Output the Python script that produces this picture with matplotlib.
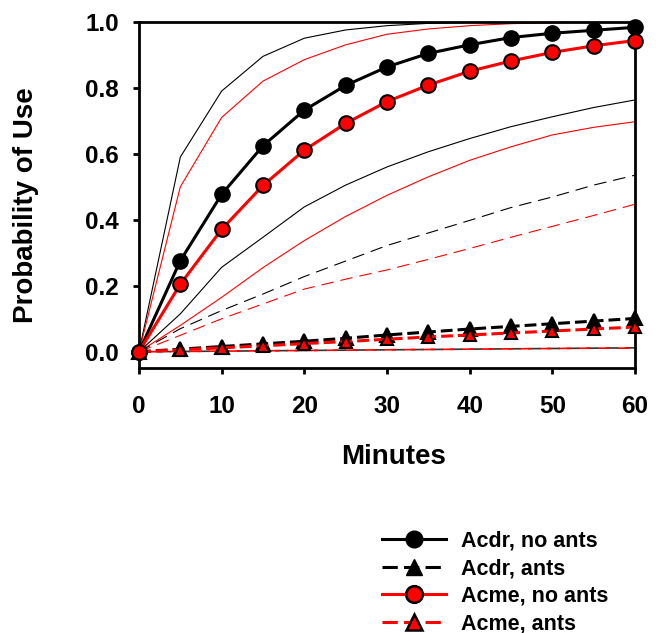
import matplotlib
matplotlib.use("Agg")
import matplotlib.pyplot as plt
from matplotlib.lines import Line2D

plt.rcParams['font.family'] = ['Liberation Sans', 'DejaVu Sans']
plt.rcParams['font.weight'] = 'bold'
plt.rcParams['lines.scale_dashes'] = False

minutes = [0, 5, 10, 15, 20, 25, 30, 35, 40, 45, 50, 55, 60]

acdr_no_ants = [0, 0.276, 0.477, 0.624, 0.732, 0.807, 0.863, 0.904, 0.930, 0.952, 0.965, 0.974, 0.983]
acme_no_ants = [0, 0.205, 0.371, 0.504, 0.611, 0.692, 0.758, 0.808, 0.850, 0.881, 0.907, 0.927, 0.943]
acdr_ants = [0, 0.008, 0.016, 0.024, 0.032, 0.041, 0.051, 0.060, 0.069, 0.077, 0.085, 0.093, 0.101]
acme_ants = [0, 0.006, 0.012, 0.018, 0.025, 0.031, 0.038, 0.045, 0.051, 0.057, 0.063, 0.069, 0.075]

acdr_no_upper = [0, 0.59, 0.79, 0.895, 0.95, 0.975, 0.988, 0.995, 0.998, 1.0, 1.0, 1.0, 1.0]
acdr_no_lower = [0, 0.115, 0.256, 0.347, 0.439, 0.505, 0.56, 0.606, 0.646, 0.682, 0.712, 0.74, 0.763]
acme_no_upper = [0, 0.50, 0.71, 0.82, 0.885, 0.93, 0.962, 0.978, 0.988, 0.994, 0.997, 0.999, 1.0]
acme_no_lower = [0, 0.08, 0.165, 0.255, 0.337, 0.41, 0.474, 0.53, 0.58, 0.621, 0.657, 0.68, 0.697]
acdr_ants_upper = [0, 0.07, 0.125, 0.175, 0.228, 0.275, 0.322, 0.36, 0.398, 0.437, 0.469, 0.505, 0.535]
acdr_ants_lower = [0, 0.001, 0.002, 0.003, 0.004, 0.005, 0.006, 0.007, 0.008, 0.009, 0.010, 0.011, 0.012]
acme_ants_upper = [0, 0.05, 0.1, 0.145, 0.19, 0.22, 0.248, 0.28, 0.313, 0.347, 0.38, 0.413, 0.447]
acme_ants_lower = [0, 0.001, 0.002, 0.003, 0.004, 0.005, 0.006, 0.007, 0.008, 0.009, 0.010, 0.011, 0.011]

labels = ["Acdr, no ants", "Acdr, ants", "Acme, no ants", "Acme, ants"]
x_ticks = [0, 10, 20, 30, 40, 50, 60]
y_ticks = [0.0, 0.2, 0.4, 0.6, 0.8, 1.0]

RED = '#ff0000'
thick_dash = (0, (8.5, 3.6))
thin_dash = (0, (9.0, 5.0))

W, H = 660, 633
L, R, T, B = 139, 635, 21.7, 368.3
fig = plt.figure(figsize=(W / 100, H / 100), dpi=100)
ax = fig.add_axes([L / W, 1 - B / H, (R - L) / W, (B - T) / H])

# confidence lines
ax.plot(minutes, acdr_no_upper, color='black', lw=0.8)
ax.plot(minutes, acdr_no_lower, color='black', lw=0.8)
ax.plot(minutes, acme_no_upper, color=RED, lw=0.8)
ax.plot(minutes, acme_no_lower, color=RED, lw=0.8)
ax.plot(minutes, acdr_ants_upper, color='black', lw=0.8, linestyle=thin_dash)
ax.plot(minutes, acme_ants_upper, color=RED, lw=0.8, linestyle=thin_dash)
ax.plot(minutes, acdr_ants_lower, color='#333333', lw=1.2, linestyle=thin_dash)
ax.plot(minutes, acme_ants_lower, color=RED, lw=1.2, linestyle=(6, (9.0, 5.0)))

# main series
kw = dict(clip_on=False, zorder=5)
ax.plot(minutes, acdr_ants, color='black', lw=2.2, linestyle=thick_dash, marker='^',
        ms=9.5, mfc='black', mec='black', mew=1.5, **kw)
ax.plot(minutes, acme_ants, color=RED, lw=2.2, linestyle=thick_dash, marker='^',
        ms=9, mfc=RED, mec='black', mew=1.5, **kw)
ax.plot(minutes, acdr_no_ants, color='black', lw=2.2, marker='o',
        ms=10.5, mfc='black', mec='black', mew=1.5, **kw)
ax.plot(minutes, acme_no_ants, color=RED, lw=2.2, marker='o',
        ms=10.5, mfc=RED, mec='black', mew=1.5, **kw)

ax.set_xlim(0, 60)
ax.set_ylim(-0.05, 1.0)
ax.set_xticks(x_ticks)
ax.set_yticks(y_ticks)
ax.set_yticklabels([f"{v:.1f}" for v in y_ticks])
ax.tick_params(direction='out', length=4, width=2, labelsize=17.5)
ax.tick_params(axis='x', pad=15.5)
ax.tick_params(axis='y', pad=10.5)
for s in ax.spines.values():
    s.set_linewidth(2)

ax.set_xlabel("Minutes", fontsize=20, fontweight='bold')
ax.set_ylabel("Probability of Use", fontsize=20, fontweight='bold')
ax.xaxis.set_label_coords((394 - L) / (R - L), (B - 444.5) / (B - T))
ax.yaxis.set_label_coords((39.5 - L) / (R - L), (B - 205) / (B - T))

handles = [
    Line2D([], [], color='black', lw=2.2, marker='o', ms=12, mfc='black', mec='black'),
    Line2D([], [], color='black', lw=2.2, linestyle=(0, (11, 4.5)), marker='^', ms=12, mfc='black', mec='black'),
    Line2D([], [], color=RED, lw=2.2, marker='o', ms=12, mfc=RED, mec='black', mew=1.8),
    Line2D([], [], color=RED, lw=2.2, linestyle=(0, (11, 4.5)), marker='^', ms=12, mfc=RED, mec='black', mew=1.8),
]
fig.legend(handles, labels, loc='upper left', bbox_to_anchor=(382 / W, 1 - 531 / H),
           frameon=False, fontsize=15.5, handlelength=2.95, handletextpad=0.72,
           labelspacing=0.3, borderpad=0, borderaxespad=0)

fig.savefig("out.png", dpi=100)
